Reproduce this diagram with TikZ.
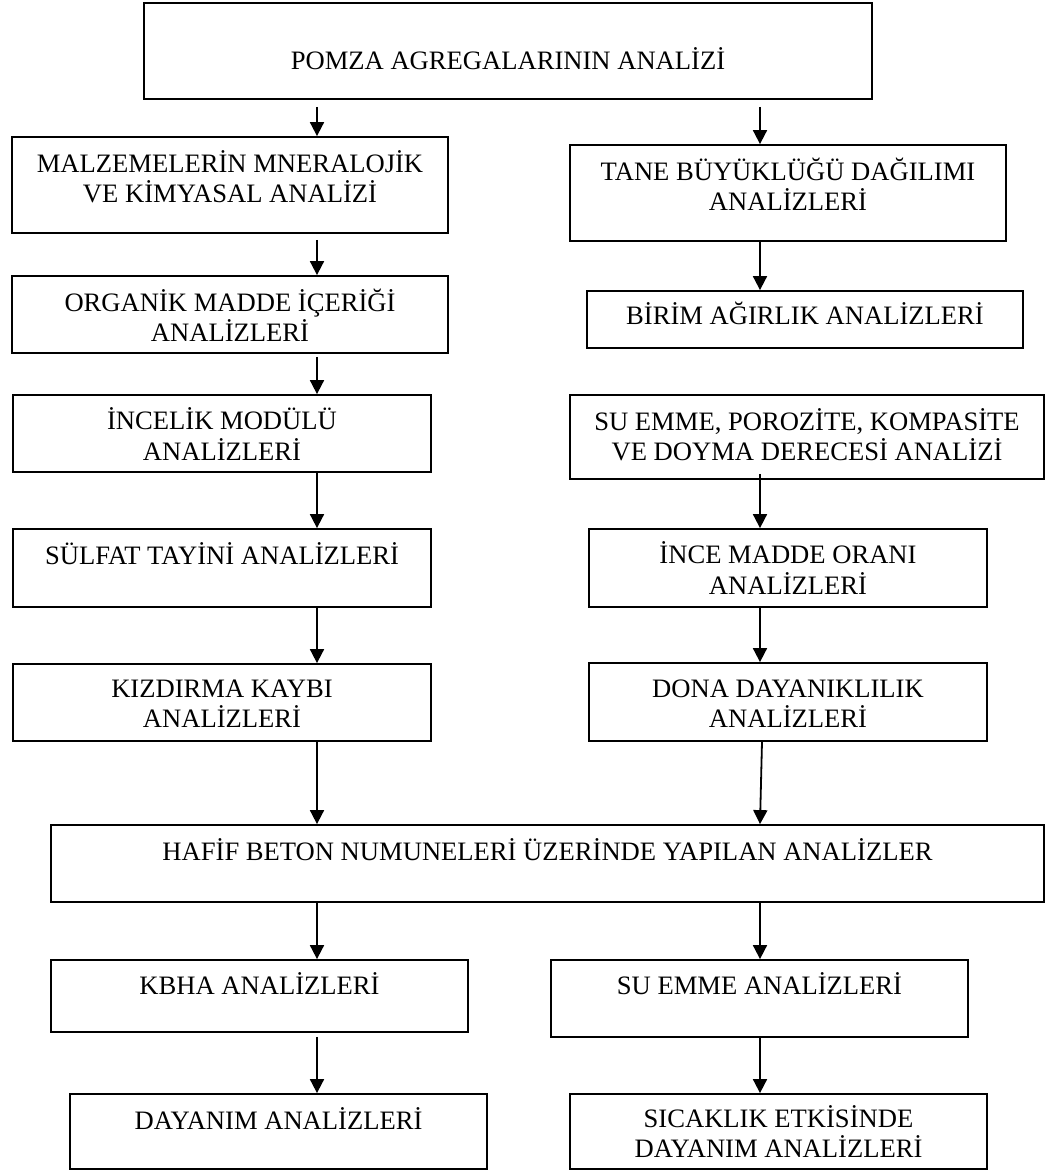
\documentclass[tikz,border=0pt]{standalone}
\usepackage{fontspec}
\setmainfont{Liberation Serif}
\usetikzlibrary{arrows.meta}

\begin{document}
\begin{tikzpicture}[x=1pt, y=-1pt,
	kutu/.style={draw, line width=1.8pt, inner sep=0pt},
	yazi/.style={anchor=base, align=center, inner sep=0pt, font=\fontsize{26.6}{30.5}\selectfont},
	ok/.style={line width=1.8pt, -{Triangle[width=14pt, length=14pt]}}]
	\useasboundingbox (0,0) rectangle (1058,1171);

	% Top box
	\node[kutu, minimum width=728, minimum height=96] (pomza) at (508,51) {};
	\node[yazi] (pomzaY) at ([yshift=-67pt]pomza.north) {POMZA AGREGALARININ ANALİZİ};

	% Arrow columns
	\coordinate (solx) at (317,0);
	\coordinate (sagx) at (760,0);

	% Left column (base anchor sits on the last line)
	\begin{scope}
		\node[kutu, minimum width=436, minimum height=96] (malz) at (230,185) {};
		\node[yazi] (malzY) at ([yshift=-66.5pt]malz.north) {MALZEMELERİN MNERALOJİK\\VE KİMYASAL ANALİZİ};

		\node[kutu, minimum width=436, minimum height=77] (org) at (230,314.5) {};
		\node[yazi] (orgY) at ([yshift=-66.5pt]org.north) {ORGANİK MADDE İÇERİĞİ\\ANALİZLERİ};

		\node[kutu, minimum width=418, minimum height=77] (incelik) at (222,433.5) {};
		\node[yazi] (incelikY) at ([yshift=-66pt]incelik.north) {İNCELİK MODÜLÜ\\ANALİZLERİ};

		\node[kutu, minimum width=418, minimum height=78] (sulfat) at (222,568) {};
		\node[yazi] (sulfatY) at ([yshift=-36pt]sulfat.north) {SÜLFAT TAYİNİ ANALİZLERİ};

		\node[kutu, minimum width=418, minimum height=77] (kizdirma) at (222,702.5) {};
		\node[yazi] (kizdirmaY) at ([yshift=-64.5pt]kizdirma.north) {KIZDIRMA KAYBI\\ANALİZLERİ};
	\end{scope}

	% Right column
	\begin{scope}
		\node[kutu, minimum width=436, minimum height=96] (tane) at (788,193) {};
		\node[yazi] (taneY) at ([yshift=-66.5pt]tane.north) {TANE BÜYÜKLÜĞÜ DAĞILIMI\\ANALİZLERİ};

		\node[kutu, minimum width=436, minimum height=57] (birim) at (805,319.5) {};
		\node[yazi] (birimY) at ([yshift=-34pt]birim.north) {BİRİM AĞIRLIK ANALİZLERİ};

		\node[kutu, minimum width=474, minimum height=84] (suemme) at (807,437) {};
		\node[yazi] (suemmeY) at ([yshift=-66.5pt]suemme.north) {SU EMME, POROZİTE, KOMPASİTE\\VE DOYMA DERECESİ ANALİZİ};

		\node[kutu, minimum width=398, minimum height=78] (incemadde) at (788,568) {};
		\node[yazi] (incemaddeY) at ([yshift=-66pt]incemadde.north) {İNCE MADDE ORANI\\ANALİZLERİ};

		\node[kutu, minimum width=398, minimum height=78] (dona) at (788,702) {};
		\node[yazi] (donaY) at ([yshift=-65.5pt]dona.north) {DONA DAYANIKLILIK\\ANALİZLERİ};
	\end{scope}

	% Concrete samples
	\node[kutu, minimum width=993, minimum height=77] (hafif) at (547.5,863.5) {};
	\node[yazi] (hafifY) at ([yshift=-36pt]hafif.north) {HAFİF BETON NUMUNELERİ ÜZERİNDE YAPILAN ANALİZLER};

	\node[kutu, minimum width=417, minimum height=72] (kbha) at (259.5,996) {};
	\node[yazi] (kbhaY) at ([yshift=-35pt]kbha.north) {KBHA ANALİZLERİ};

	\node[kutu, minimum width=417, minimum height=75] (dayanim) at (278.5,1131.5) {};
	\node[yazi] (dayanimY) at ([yshift=-36pt]dayanim.north) {DAYANIM ANALİZLERİ};

	\node[kutu, minimum width=417, minimum height=77] (suanaliz) at (759.5,998.5) {};
	\node[yazi] (suanalizY) at ([yshift=-35pt]suanaliz.north) {SU EMME ANALİZLERİ};

	\node[kutu, minimum width=417, minimum height=75] (sicaklik) at (778.5,1131.5) {};
	\node[yazi] (sicaklikY) at ([yshift=-64.5pt]sicaklik.north) {SICAKLIK ETKİSİNDE\\DAYANIM ANALİZLERİ};

	% Draw the arrows
	\draw[ok, shorten <=7pt] (pomza.south -| solx) -- (malz.north -| solx);
	\draw[ok, shorten <=6pt] (malz.south -| solx) -- (org.north -| solx);
	\draw[ok, shorten <=3pt] (org.south -| solx) -- (incelik.north -| solx);
	\draw[ok] (incelik.south -| solx) -- (sulfat.north -| solx);
	\draw[ok] (sulfat.south -| solx) -- (kizdirma.north -| solx);
	\draw[ok] (kizdirma.south -| solx) -- (hafif.north -| solx);

	\draw[ok, shorten <=7pt] (pomza.south -| sagx) -- (tane.north -| sagx);
	\draw[ok] (tane.south -| sagx) -- (birim.north -| sagx);
	\draw[ok, shorten <=-6pt] (suemme.south -| sagx) -- (incemadde.north -| sagx);
	\draw[ok] (incemadde.south -| sagx) -- (dona.north -| sagx);
	\draw[ok] ([xshift=2pt]dona.south -| sagx) -- (hafif.north -| sagx);

	\draw[ok] (hafif.south -| solx) -- (kbha.north -| solx);
	\draw[ok, shorten <=4pt] (kbha.south -| solx) -- (dayanim.north -| solx);
	\draw[ok] (hafif.south -| sagx) -- (suanaliz.north -| sagx);
	\draw[ok] (suanaliz.south -| sagx) -- (sicaklik.north -| sagx);
\end{tikzpicture}
\end{document}
